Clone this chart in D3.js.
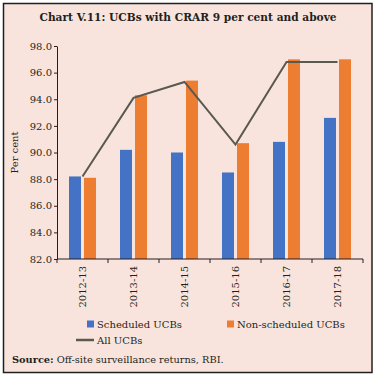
<!DOCTYPE html>
<html>
<head>
<meta charset="utf-8">
<script src="https://cdn.jsdelivr.net/npm/d3@7"></script>
<style>
  html, body { margin: 0; padding: 0; background: #fff; }
  svg { display: block; }
  text { font-family: "DejaVu Serif", "Liberation Serif", serif; fill: #231f20; }
</style>
</head>
<body>
<div id="chart"></div>
<script>
const W = 375, H = 377;

// data
const years = ["2012-13", "2013-14", "2014-15", "2015-16", "2016-17", "2017-18"];
const scheduled = [88.2, 90.2, 90.0, 88.5, 90.8, 92.6];
const nonScheduled = [88.1, 94.3, 95.4, 90.7, 97.0, 97.0];
const allUcbs = [88.2, 94.1, 95.3, 90.6, 96.8, 96.8];
const yTicks = [82, 84, 86, 88, 90, 92, 94, 96, 98];

const margin = { left: 57, right: 12, top: 46, bottom: 118 };

const svg = d3.select("#chart").append("svg")
    .attr("width", W)
    .attr("height", H)
    .attr("viewBox", `0 0 ${W} ${H}`);

// background panel + border
svg.append("rect")
    .attr("x", 3.5).attr("y", 3.5)
    .attr("width", 368.5).attr("height", 369)
    .attr("fill", "#f9e4dd")
    .attr("stroke", "#231f20")
    .attr("stroke-width", 1.5);

svg.append("text")
    .attr("x", 188).attr("y", 21)
    .attr("text-anchor", "middle")
    .attr("font-size", 10.6)
    .attr("font-weight", "bold")
    .text("Chart V.11: UCBs with CRAR 9 per cent and above");

const x = d3.scaleBand()
    .domain(years)
    .range([margin.left, W - margin.right])
    .paddingInner(0)
    .paddingOuter(0);

const y = d3.scaleLinear()
    .domain([82, 98])
    .range([H - margin.bottom, margin.top]);

const barW = 12, gap = 3;

// bars
const g = svg.append("g");
g.selectAll("rect.s")
    .data(years)
    .join("rect")
    .attr("class", "s")
    .attr("x", d => x(d) + x.bandwidth() / 2 - gap / 2 - barW)
    .attr("width", barW)
    .attr("y", (d, i) => y(scheduled[i]))
    .attr("height", (d, i) => y(82) - y(scheduled[i]))
    .attr("fill", "#4472c4");

g.selectAll("rect.n")
    .data(years)
    .join("rect")
    .attr("class", "n")
    .attr("x", d => x(d) + x.bandwidth() / 2 + gap / 2)
    .attr("width", barW)
    .attr("y", (d, i) => y(nonScheduled[i]))
    .attr("height", (d, i) => y(82) - y(nonScheduled[i]))
    .attr("fill", "#ed7d31");

// line
const line = d3.line()
    .x((d, i) => x(years[i]) + x.bandwidth() / 2)
    .y(d => y(d));

svg.append("path")
    .datum(allUcbs)
    .attr("d", line)
    .attr("fill", "none")
    .attr("stroke", "#595950")
    .attr("stroke-width", 2);

// y axis
const yAxis = svg.append("g")
    .attr("transform", `translate(${margin.left},0)`)
    .call(d3.axisLeft(y).tickValues(yTicks).tickFormat(d3.format(".1f")).tickSize(3).tickSizeOuter(0));
yAxis.select(".domain").attr("stroke", "#231f20");
yAxis.selectAll(".tick line").attr("stroke", "#231f20");
yAxis.selectAll(".tick text")
    .attr("x", -5)
    .attr("font-size", 10)
    .attr("font-family", "DejaVu Serif, serif")
    .attr("fill", "#231f20");

svg.append("text")
    .attr("transform", `translate(18,${(y(82) + y(98)) / 2}) rotate(-90)`)
    .attr("text-anchor", "middle")
    .attr("font-size", 10)
    .text("Per cent");

// x axis
const xTickPos = years.map(d => x(d)).concat([W - margin.right]);
const xAxis = svg.append("g").attr("transform", `translate(0,${y(82)})`);
xAxis.append("line")
    .attr("x1", margin.left).attr("x2", W - margin.right)
    .attr("stroke", "#231f20");
xAxis.selectAll("line.tk")
    .data(xTickPos)
    .join("line")
    .attr("class", "tk")
    .attr("x1", d => d).attr("x2", d => d)
    .attr("y1", 0).attr("y2", 4)
    .attr("stroke", "#231f20");
xAxis.selectAll("text")
    .data(years)
    .join("text")
    .attr("transform", d => `translate(${x(d) + x.bandwidth() / 2 + 3.5},7) rotate(-90)`)
    .attr("text-anchor", "end")
    .attr("font-size", 10)
    .text(d => d);

// legend
const lg = svg.append("g");
lg.append("rect").attr("x", 87).attr("y", 320.5).attr("width", 7).attr("height", 7).attr("fill", "#4472c4");
lg.append("text").attr("x", 97).attr("y", 328).attr("font-size", 10).text("Scheduled UCBs");
lg.append("rect").attr("x", 227).attr("y", 320.5).attr("width", 7).attr("height", 7).attr("fill", "#ed7d31");
lg.append("text").attr("x", 237).attr("y", 328).attr("font-size", 10).text("Non-scheduled UCBs");
lg.append("line").attr("x1", 76).attr("x2", 94).attr("y1", 340).attr("y2", 340)
    .attr("stroke", "#595950").attr("stroke-width", 2.5);
lg.append("text").attr("x", 97).attr("y", 344).attr("font-size", 10).text("All UCBs");

// source
const src = svg.append("text").attr("x", 12).attr("y", 363).attr("font-size", 9.8);
src.append("tspan").attr("font-weight", "bold").text("Source:");
src.append("tspan").text(" Off-site surveillance returns, RBI.");
</script>
</body>
</html>
